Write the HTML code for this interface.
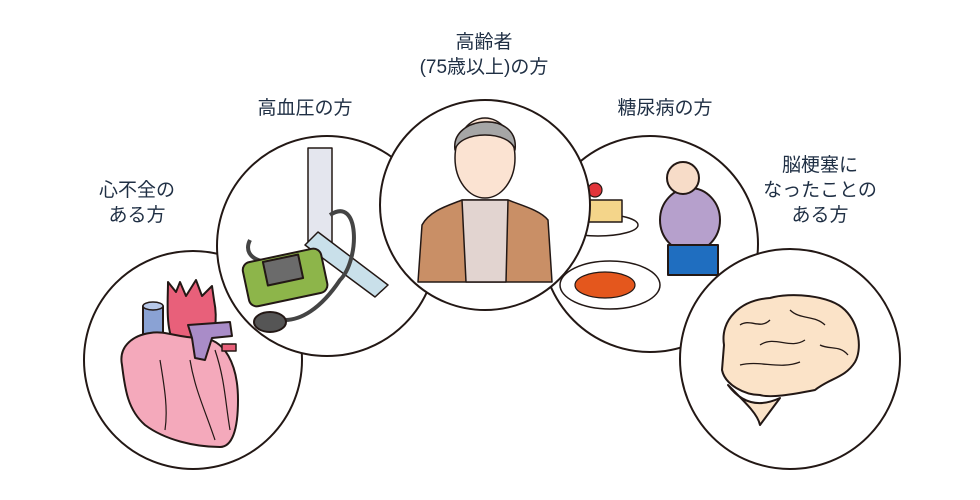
<!DOCTYPE html>
<html><head><meta charset="utf-8"><style>
html,body{margin:0;padding:0;background:#fff;}
.t{position:absolute;font-family:"Liberation Sans","Noto Sans CJK JP",sans-serif;font-size:19px;color:#1f2f44;text-align:center;line-height:25px;white-space:nowrap;}
</style></head><body>
<div style="position:relative;width:980px;height:500px;overflow:hidden">
<svg width="980" height="500" style="position:absolute;left:0;top:0">
<g stroke="#231815" stroke-width="2" stroke-linejoin="round">
<!-- heart -->
<circle cx="193" cy="360" r="109" fill="#fff"/>
<path d="M168 282 L176 292 L180 282 L186 296 L196 280 L202 296 L212 286 L214 300 C218 320 215 340 205 345 L175 345 C165 330 168 300 168 282 Z" fill="#e8607a"/>
<path d="M143 306 L163 306 L163 335 L143 335 Z" fill="#8aa2d4"/>
<ellipse cx="153" cy="306" rx="10" ry="4" fill="#b8c8e8" stroke-width="1.5"/>
<path d="M122 365 C118 345 135 335 150 333 C165 330 178 338 200 338 C225 338 238 365 238 400 C238 430 232 447 220 447 C195 447 165 440 145 425 C128 410 125 390 122 365 Z" fill="#f4a9bb"/>
<path d="M188 325 L230 322 L232 336 L212 338 L205 360 L195 358 L192 338 Z" fill="#a98cc8"/>
<rect x="222" y="344" width="14" height="7" fill="#e8607a" stroke-width="1.5"/>
<path d="M160 360 C165 390 168 410 165 430 M190 360 C195 390 205 410 215 440 M215 350 C225 380 225 400 230 430" fill="none" stroke-width="1.2"/>
<!-- BP -->
<circle cx="327" cy="246" r="110" fill="#fff"/>
<rect x="308" y="148" width="24" height="95" fill="#e4e6ee" stroke-width="1.5"/>
<path d="M318 232 L388 285 L375 297 L305 245 Z" fill="#c9e0ea" stroke-width="1.5"/>
<path d="M250 240 C240 260 270 270 300 255 M330 215 C360 195 360 260 340 280 C320 310 300 320 285 320" fill="none" stroke="#444" stroke-width="4"/>
<rect x="245" y="255" width="80" height="45" rx="8" fill="#8db54a" transform="rotate(-12 285 277)"/>
<rect x="265" y="258" width="36" height="24" fill="#6b6b6b" transform="rotate(-12 283 270)"/>
<ellipse cx="270" cy="322" rx="16" ry="10" fill="#555"/>
<!-- diabetes -->
<circle cx="650" cy="244" r="108" fill="#fff"/>
<ellipse cx="598" cy="225" rx="40" ry="11" fill="#fff" stroke-width="1.5"/>
<rect x="578" y="200" width="44" height="22" fill="#f4d58a" stroke-width="1.5"/>
<circle cx="595" cy="190" r="7" fill="#e2343a" stroke-width="1.2"/>
<ellipse cx="610" cy="285" rx="50" ry="24" fill="#fff" stroke-width="1.5"/>
<ellipse cx="605" cy="285" rx="30" ry="13" fill="#e4571d" stroke-width="1.2"/>
<ellipse cx="690" cy="220" rx="30" ry="32" fill="#b6a0cc"/>
<rect x="668" y="245" width="50" height="30" fill="#1f6ec0"/>
<circle cx="683" cy="178" r="16" fill="#f7dcc8"/>
<!-- brain -->
<circle cx="790" cy="359" r="110" fill="#fff"/>
<path d="M728 385 C745 408 765 405 780 398 L760 425 C758 415 748 405 728 385 Z" fill="#fbe3c8"/>
<path d="M724 345 C720 320 740 300 770 298 C790 292 830 295 845 310 C860 325 862 350 855 362 C845 378 830 378 815 390 C790 395 770 398 760 395 C745 395 725 385 722 370 Z" fill="#fbe3c8"/>
<path d="M740 325 C750 318 760 330 770 320 M760 345 C775 335 790 350 805 340 M790 310 C800 320 815 315 825 325 M740 365 C760 360 780 370 800 362 M820 345 C830 350 840 345 848 355" fill="none" stroke-width="1.3"/>
<!-- elderly -->
<circle cx="485" cy="205" r="105" fill="#fff"/>
<path d="M418 282 L422 225 C430 210 450 205 462 200 L508 200 C520 205 540 210 548 220 L552 282 Z" fill="#c98f66" stroke-width="1.5"/>
<path d="M462 200 L466 282 L506 282 L508 200 Z" fill="#e2d4d0" stroke-width="1.5"/>
<ellipse cx="485" cy="158" rx="30" ry="40" fill="#fbe3d2" stroke-width="1.5"/>
<path d="M455 150 C450 115 520 110 515 150 C510 130 460 130 455 150 Z" fill="#a6a6a6" stroke-width="1.5"/>
</g>
</svg>
<div class="t" style="left:77px;top:178px;width:120px">心不全の<br>ある方</div>
<div class="t" style="left:245px;top:96px;width:120px">高血圧の方</div>
<div class="t" style="left:404px;top:30px;width:160px">高齢者<br>(75歳以上)の方</div>
<div class="t" style="left:605px;top:96px;width:120px">糖尿病の方</div>
<div class="t" style="left:755px;top:153px;width:130px">脳梗塞に<br>なったことの<br>ある方</div>
</div>
</body></html>
